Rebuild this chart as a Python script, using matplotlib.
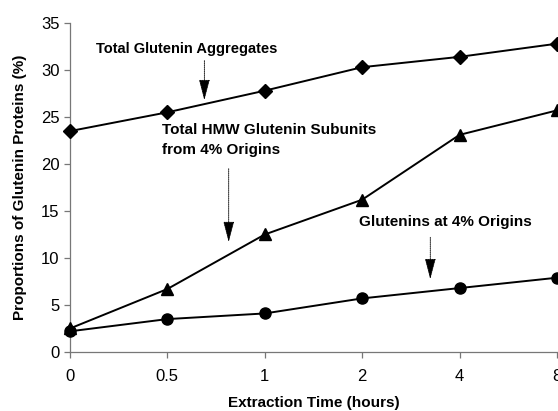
import matplotlib
matplotlib.use("Agg")
import matplotlib.pyplot as plt

plt.rcParams['font.family'] = ['Liberation Sans', 'DejaVu Sans']

# extraction time categories (hours), evenly spaced on the axis
time_labels = ["0", "0.5", "1", "2", "4", "8"]
positions = list(range(len(time_labels)))

# proportions of glutenin proteins (%)
total_aggregates = [23.5, 25.5, 27.8, 30.3, 31.4, 32.8]
hmw_subunits = [2.5, 6.7, 12.5, 16.2, 23.1, 25.7]
glutenins_origins = [2.2, 3.5, 4.1, 5.7, 6.8, 7.9]

fig = plt.figure(figsize=(5.58, 4.11), dpi=100)
ax = fig.add_axes([0.1254, 0.1436, 0.8726, 0.8004])

ax.plot(positions, total_aggregates, color='black', lw=1.4, marker='D',
        markersize=7, clip_on=False, zorder=3)
ax.plot(positions, hmw_subunits, color='black', lw=1.4, marker='^',
        markersize=8.5, clip_on=False, zorder=3)
ax.plot(positions, glutenins_origins, color='black', lw=1.4, marker='o',
        markersize=8, clip_on=False, zorder=3)

ax.set_xlim(0, 5)
ax.set_ylim(0, 35)
ax.set_xticks(positions)
ax.set_xticklabels(time_labels)
ax.set_yticks(range(0, 36, 5))

for side in ['top', 'right']:
    ax.spines[side].set_visible(False)
for side in ['left', 'bottom']:
    ax.spines[side].set_color('#777777')
    ax.spines[side].set_linewidth(0.9)
ax.tick_params(axis='both', colors='#777777', labelcolor='black',
               labelsize=12, length=4, width=0.9)
ax.tick_params(axis='x', pad=8)

ax.set_xlabel("Extraction Time (hours)", fontsize=11, fontweight='bold',
              labelpad=9)
ax.set_ylabel("Proportions of Glutenin Proteins (%)", fontsize=11,
              fontweight='bold', labelpad=10)

arrow = dict(arrowstyle='-|>,head_length=0.65,head_width=0.17',
             color='black', lw=0.6, ls=(0, (1.5, 1)),
             mutation_scale=20, shrinkA=0, shrinkB=0)

ax.annotate("", xy=(1.38, 26.8), xytext=(1.38, 31.0), arrowprops=arrow)
ax.text(0.27, 32.2, "Total Glutenin Aggregates", fontsize=10.5,
        fontweight='bold', va='center', ha='left')

ax.annotate("", xy=(1.63, 11.7), xytext=(1.63, 19.5), arrowprops=arrow)
ax.text(0.95, 22.6, "Total HMW Glutenin Subunits\nfrom 4% Origins",
        fontsize=11, fontweight='bold', va='center', ha='left',
        linespacing=1.55)

ax.annotate("", xy=(3.7, 7.75), xytext=(3.7, 12.2), arrowprops=arrow)
ax.text(2.97, 13.8, "Glutenins at 4% Origins", fontsize=11,
        fontweight='bold', va='center', ha='left')

fig.savefig("out.png", dpi=100)
